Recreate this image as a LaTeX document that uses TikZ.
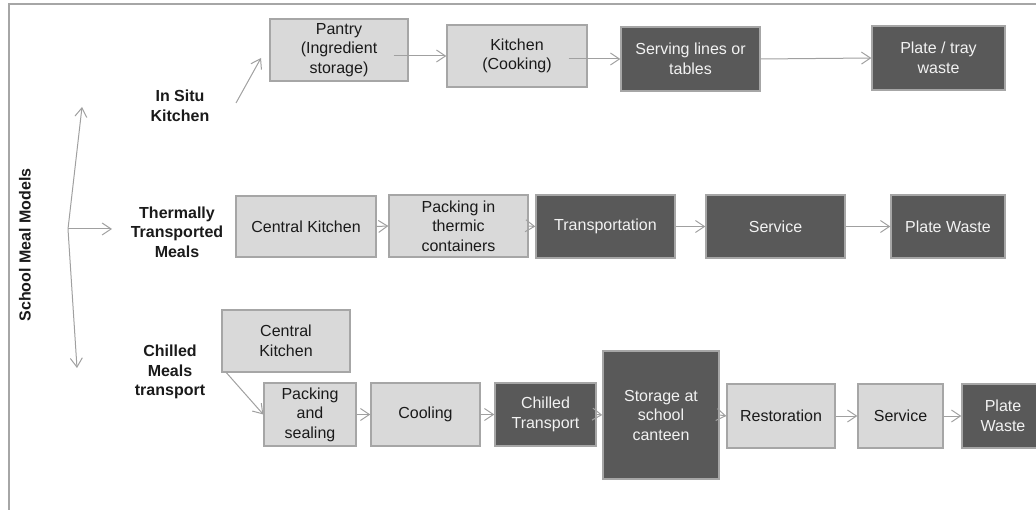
\documentclass[tikz,border=0pt]{standalone}
\usepackage{fontspec}
\setmainfont{Liberation Sans}
\usetikzlibrary{arrows.meta}

\definecolor{lightfill}{HTML}{D9D9D9}
\definecolor{darkfill}{HTML}{595959}
\definecolor{edgegray}{HTML}{A6A6A6}
\definecolor{arrowgray}{HTML}{A0A0A0}
\definecolor{textdark}{HTML}{1A1A1A}
\definecolor{textlight}{HTML}{F2F2F2}

\tikzset{
	lightbox/.style={draw=edgegray, line width=1.3pt, fill=lightfill, text=textdark, shape=rectangle, align=center, inner sep=0pt, font=\fontsize{16}{19.5}\selectfont},
	darkbox/.style={lightbox, fill=darkfill, text=textlight},
	modellabel/.style={text=textdark, align=center, inner sep=0pt, font=\bfseries\fontsize{16}{19.5}\selectfont},
	flow/.style={draw=arrowgray, line width=1pt, -{Straight Barb[length=9pt,width=12pt]}}
}

\begin{document}
\begin{tikzpicture}[x=1pt, y=-1pt]
	\useasboundingbox (0,0) rectangle (1036,510);
	\draw[edgegray, line width=1.3pt] (1036,4) -- (9,4) -- (9,510);

	% models
	\node[modellabel, rotate=90] (models) at (25,245) {School Meal Models};
	\node[modellabel] (in_situ) at (180,106) {In Situ\\Kitchen};
	\node[modellabel] (thermally) at (177,232) {Thermally\\Transported\\Meals};
	\node[modellabel] (chilled) at (170,372) {Chilled\\Meals\\transport};

	\coordinate (root) at (68,229);
	\coordinate (root_up) at (82,107);
	\coordinate (root_down) at (77,368);
	\coordinate (root_right) at (112,229);
	\coordinate (in_situ_out) at (236,103);
	\coordinate (in_situ_in) at (261,58);
	\draw[flow] (root) -- (root_up);
	\draw[flow] (root) -- (root_down);
	\draw[flow] (root) -- (root_right);
	\draw[flow] (in_situ_out) -- (in_situ_in);

	% in situ kitchen
	\node[lightbox, minimum width=138pt, minimum height=62pt] (pantry) at (339,50) {Pantry\\(Ingredient\\storage)};
	\node[lightbox, minimum width=140pt, minimum height=62pt] (kitchen) at (517,56) {Kitchen\\(Cooking)};
	\node[darkbox, minimum width=139pt, minimum height=64pt] (serving_lines) at (690.5,59) {Serving lines or\\tables};
	\node[darkbox, minimum width=133pt, minimum height=64pt] (plate_tray) at (938.5,58) {Plate / tray\\waste};

	\draw[flow] ([xshift=-15pt,yshift=-6pt]pantry.east) -- (kitchen.west);
	\draw[flow] ([xshift=-19pt,yshift=-3pt]kitchen.east) -- (serving_lines.west);
	\draw[flow] (serving_lines.east) -- (plate_tray.west);

	% thermally transported meals
	\node[lightbox, minimum width=140pt, minimum height=61pt] (central_kitchen) at (306,226.5) {Central Kitchen};
	\node[lightbox, minimum width=139pt, minimum height=62pt] (packing_thermic) at (458.5,226) {Packing in\\thermic\\containers};
	\node[darkbox, minimum width=139pt, minimum height=63pt] (transportation) at (605.5,226.5) {Transportation};
	\node[darkbox, minimum width=139pt, minimum height=63pt] (service) at (775.5,226.5) {Service};
	\node[darkbox, minimum width=114pt, minimum height=63pt] (plate_waste) at (948,226.5) {Plate Waste};

	\draw[flow] (central_kitchen.east) -- (packing_thermic.west);
	\draw[flow] (packing_thermic.east) -- (transportation.west);
	\draw[flow] (transportation.east) -- (service.west);
	\draw[flow] (service.east) -- (plate_waste.west);

	% chilled meals transport
	\node[lightbox, minimum width=128pt, minimum height=62pt] (central_kitchen_c) at (286,341) {Central\\Kitchen};
	\node[lightbox, minimum width=92pt, minimum height=63pt] (packing_sealing) at (310,414.5) {Packing\\and\\sealing};
	\node[lightbox, minimum width=109pt, minimum height=63pt] (cooling) at (425.5,414.5) {Cooling};
	\node[darkbox, minimum width=101pt, minimum height=63pt] (chilled_transport) at (545.5,414.5) {Chilled\\Transport};
	\node[darkbox, minimum width=116pt, minimum height=128pt] (storage) at (661,415) {Storage at\\school\\canteen};
	\node[lightbox, minimum width=108pt, minimum height=64pt] (restoration) at (781,416) {Restoration};
	\node[lightbox, minimum width=85pt, minimum height=64pt] (service_c) at (900.5,416) {Service};
	\node[darkbox, minimum width=82pt, minimum height=64pt] (plate_waste_c) at (1003,416) {Plate\\Waste};

	\draw[flow] ([xshift=5pt]central_kitchen_c.south west) -- (packing_sealing.west);
	\draw[flow] (packing_sealing.east) -- (cooling.west);
	\draw[flow] (cooling.east) -- (chilled_transport.west);
	\draw[flow] (chilled_transport.east) -- (storage.west);
	\draw[flow] (storage.east) -- (restoration.west);
	\draw[flow] (restoration.east) -- (service_c.west);
	\draw[flow] (service_c.east) -- (plate_waste_c.west);
\end{tikzpicture}
\end{document}
